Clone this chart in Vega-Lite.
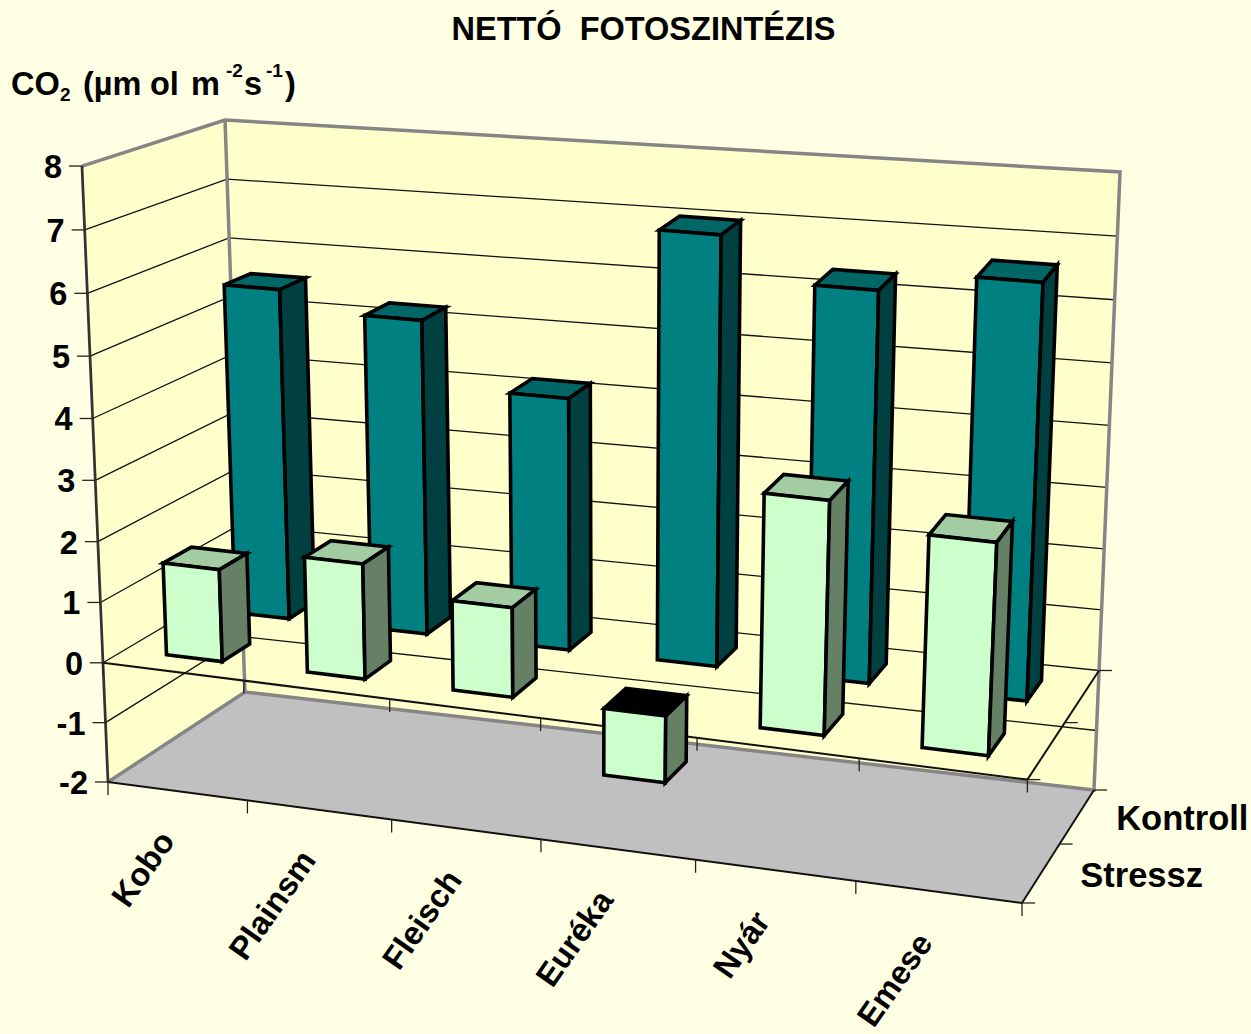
{
"$schema":"https://vega.github.io/schema/vega-lite/v6.json",
"width":1251,"height":1034,"padding":0,"autosize":{"type":"none"},
"background":"#FFFFE3",
"config":{"view":{"stroke":null},"text":{"font":"Liberation Sans","fontWeight":"bold","fontSize":32.5,"fill":"black"}},
"title":{"text":"NETTÓ\u00a0 FOTOSZINTÉZIS","font":"Liberation Sans","fontWeight":"bold","fontSize":32.5,"color":"black","anchor":"middle","dx":18,"offset":-46},
"datasets":{
"meres":[
{"fajta":"Kobo","kezeles":"Kontroll","ertek":5.58},
{"fajta":"Plainsm","kezeles":"Kontroll","ertek":5.27},
{"fajta":"Fleisch","kezeles":"Kontroll","ertek":4.2},
{"fajta":"Euréka","kezeles":"Kontroll","ertek":7.05},
{"fajta":"Nyár","kezeles":"Kontroll","ertek":6.37},
{"fajta":"Emese","kezeles":"Kontroll","ertek":6.7},
{"fajta":"Kobo","kezeles":"Stressz","ertek":1.53},
{"fajta":"Plainsm","kezeles":"Stressz","ertek":1.9},
{"fajta":"Fleisch","kezeles":"Stressz","ertek":1.47},
{"fajta":"Euréka","kezeles":"Stressz","ertek":-1.1},
{"fajta":"Nyár","kezeles":"Stressz","ertek":3.77},
{"fajta":"Emese","kezeles":"Stressz","ertek":3.4}],
"fajtak":[{"fajta":"Kobo"},{"fajta":"Plainsm"},{"fajta":"Fleisch"},{"fajta":"Euréka"},{"fajta":"Nyár"},{"fajta":"Emese"}],
"kezelesek":[{"kezeles":"Stressz"},{"kezeles":"Kontroll"}],
"osztas":[{"ertek":-2},{"ertek":-1},{"ertek":0},{"ertek":1},{"ertek":2},{"ertek":3},{"ertek":4},{"ertek":5},{"ertek":6},{"ertek":7},{"ertek":8}],
"hatarok":[{"h":0},{"h":1},{"h":2},{"h":3},{"h":4},{"h":5},{"h":6}],
"melyseg":[{"m":0},{"m":1},{"m":2}],
"falak":[{"lap":"bal"},{"lap":"hatso"},{"lap":"padlo"}],
"elek":[{"el":"keret","tipus":"szurke"},{"el":"sarok","tipus":"szurke"},{"el":"ytengely","tipus":"sotet"},{"el":"padloel","tipus":"fekete"},{"el":"nullasik","tipus":"fekete"}],
"egy":[{"horgony":"y"}]
},
"encoding":{
"x":{"field":"px","type":"quantitative","axis":null,"scale":{"domain":[0,1251],"nice":false,"zero":false}},
"y":{"field":"py","type":"quantitative","axis":null,"scale":{"domain":[0,1034],"nice":false,"zero":false,"reverse":true}}
},
"layer":[
{"data":{"name":"falak"},
"transform":[
{"calculate":"[0,1,2,3]","as":"sarkok"},{"flatten":["sarkok"],"as":["i"]},
{"calculate":"datum.lap=='bal'?0:(datum.i==1||datum.i==2?1:0)","as":"u"},
{"calculate":"datum.lap=='padlo'?0:(datum.i>=2?1:0)","as":"v"},
{"calculate":"datum.lap=='hatso'?1:datum.lap=='bal'?(datum.i==1||datum.i==2?1:0):(datum.i>=2?1:0)","as":"w"},
{"calculate":"((1-datum.w)*((1-datum.v)*((1-datum.u)*108+datum.u*919.8)+datum.v*((1-datum.u)*78.7+datum.u*903))+datum.w*((1-datum.v)*((1-datum.u)*265.3+datum.u*1075.4)+datum.v*((1-datum.u)*234.7+datum.u*1056.2)))/(1-0.1*datum.u-0.04*datum.v+0.083*datum.w)","as":"px"},
{"calculate":"((1-datum.w)*((1-datum.v)*((1-datum.u)*782+datum.u*812.7)+datum.v*((1-datum.u)*159.4+datum.u*226.2))+datum.w*((1-datum.v)*((1-datum.u)*749.4+datum.u*776.6)+datum.v*((1-datum.u)*125.2+datum.u*162.2)))/(1-0.1*datum.u-0.04*datum.v+0.083*datum.w)","as":"py"}
],
"mark":{"type":"line","interpolate":"linear-closed","strokeWidth":0},
"encoding":{"order":{"field":"i","type":"quantitative"},"detail":{"field":"lap"},
"fill":{"field":"lap","type":"nominal","legend":null,"scale":{"domain":["bal","hatso","padlo","Kontroll front","Kontroll side","Kontroll top","Stressz front","Stressz side","Stressz top","Stressz alja"],"range":["#FFFFCC","#FFFFCC","#C0C0C0","#008080","#004040","#006666","#CCFFCC","#668066","#A3CCA3","#000000"]}}}},
{"data":{"name":"osztas"},
"transform":[
{"filter":"datum.ertek>-2&&datum.ertek<8"},
{"calculate":"[0,1,2]","as":"csucsok"},{"flatten":["csucsok"],"as":["i"]},
{"calculate":"datum.i==2?1:0","as":"u"},
{"calculate":"(datum.ertek+2)/10","as":"v"},
{"calculate":"datum.i>=1?1:0","as":"w"},
{"calculate":"((1-datum.w)*((1-datum.v)*((1-datum.u)*108+datum.u*919.8)+datum.v*((1-datum.u)*78.7+datum.u*903))+datum.w*((1-datum.v)*((1-datum.u)*265.3+datum.u*1075.4)+datum.v*((1-datum.u)*234.7+datum.u*1056.2)))/(1-0.1*datum.u-0.04*datum.v+0.083*datum.w)","as":"px"},
{"calculate":"((1-datum.w)*((1-datum.v)*((1-datum.u)*782+datum.u*812.7)+datum.v*((1-datum.u)*159.4+datum.u*226.2))+datum.w*((1-datum.v)*((1-datum.u)*749.4+datum.u*776.6)+datum.v*((1-datum.u)*125.2+datum.u*162.2)))/(1-0.1*datum.u-0.04*datum.v+0.083*datum.w)","as":"py"}
],
"mark":{"type":"line","stroke":"#111111","strokeWidth":1.3},
"encoding":{"order":{"field":"i","type":"quantitative"},"detail":{"field":"ertek"}}},
{"data":{"name":"elek"},
"transform":[
{"calculate":"{keret:[[0,0,0],[0,0,1],[1,0,1],[1,1,1],[0,1,1],[0,1,0]],sarok:[[0,0,1],[0,1,1]],ytengely:[[0,0,0],[0,1,0]],padloel:[[0,0,0],[1,0,0],[1,0,1]],nullasik:[[0,0.2,0],[1,0.2,0],[1,0.2,1]]}[datum.el]","as":"pontok"},
{"flatten":["pontok"],"as":["p"]},
{"window":[{"op":"row_number","as":"i"}],"groupby":["el"]},
{"calculate":"datum.p[0]","as":"u"},{"calculate":"datum.p[1]","as":"v"},{"calculate":"datum.p[2]","as":"w"},
{"calculate":"((1-datum.w)*((1-datum.v)*((1-datum.u)*108+datum.u*919.8)+datum.v*((1-datum.u)*78.7+datum.u*903))+datum.w*((1-datum.v)*((1-datum.u)*265.3+datum.u*1075.4)+datum.v*((1-datum.u)*234.7+datum.u*1056.2)))/(1-0.1*datum.u-0.04*datum.v+0.083*datum.w)","as":"px"},
{"calculate":"((1-datum.w)*((1-datum.v)*((1-datum.u)*782+datum.u*812.7)+datum.v*((1-datum.u)*159.4+datum.u*226.2))+datum.w*((1-datum.v)*((1-datum.u)*749.4+datum.u*776.6)+datum.v*((1-datum.u)*125.2+datum.u*162.2)))/(1-0.1*datum.u-0.04*datum.v+0.083*datum.w)","as":"py"}
],
"mark":{"type":"line"},
"encoding":{"order":{"field":"i","type":"quantitative"},"detail":{"field":"el"},
"color":{"field":"tipus","type":"nominal","legend":null,"scale":{"domain":["szurke","sotet","fekete"],"range":["#858585","#333333","#111111"]}},
"strokeWidth":{"field":"tipus","type":"nominal","legend":null,"scale":{"domain":["szurke","sotet","fekete"],"range":[3.5,2,1.4]}}}},
{"data":{"name":"osztas"},
"transform":[
{"calculate":"(datum.ertek+2)/10","as":"v"},
{"calculate":"(782*(1-datum.v)+159.4*datum.v)/(1-0.04*datum.v)","as":"py"},
{"calculate":"(108*(1-datum.v)+78.7*datum.v)/(1-0.04*datum.v)","as":"px"},
{"calculate":"datum.px-13","as":"px2"}
],
"layer":[
{"mark":{"type":"rule","stroke":"#222222","strokeWidth":1.3},"encoding":{"x2":{"field":"px2"}}},
{"mark":{"type":"text","align":"right","baseline":"middle","dx":-20,"dy":2},"encoding":{"text":{"field":"ertek","type":"nominal"}}}
]},
{"data":{"name":"hatarok"},
"transform":[
{"calculate":"[0,0.2]","as":"sikok"},{"flatten":["sikok"],"as":["v"]},
{"calculate":"datum.h/6","as":"u"},
{"calculate":"0","as":"w"},
{"calculate":"((1-datum.w)*((1-datum.v)*((1-datum.u)*108+datum.u*919.8)+datum.v*((1-datum.u)*78.7+datum.u*903))+datum.w*((1-datum.v)*((1-datum.u)*265.3+datum.u*1075.4)+datum.v*((1-datum.u)*234.7+datum.u*1056.2)))/(1-0.1*datum.u-0.04*datum.v+0.083*datum.w)","as":"px"},
{"calculate":"((1-datum.w)*((1-datum.v)*((1-datum.u)*782+datum.u*812.7)+datum.v*((1-datum.u)*159.4+datum.u*226.2))+datum.w*((1-datum.v)*((1-datum.u)*749.4+datum.u*776.6)+datum.v*((1-datum.u)*125.2+datum.u*162.2)))/(1-0.1*datum.u-0.04*datum.v+0.083*datum.w)","as":"py"},
{"calculate":"datum.py+13","as":"py2"}
],
"mark":{"type":"rule","stroke":"#222222","strokeWidth":1.3},
"encoding":{"y2":{"field":"py2"}}},
{"data":{"name":"melyseg"},
"transform":[
{"calculate":"[0,0.2]","as":"sikok"},{"flatten":["sikok"],"as":["v"]},
{"calculate":"1","as":"u"},
{"calculate":"datum.m/2","as":"w"},
{"calculate":"((1-datum.w)*((1-datum.v)*((1-datum.u)*108+datum.u*919.8)+datum.v*((1-datum.u)*78.7+datum.u*903))+datum.w*((1-datum.v)*((1-datum.u)*265.3+datum.u*1075.4)+datum.v*((1-datum.u)*234.7+datum.u*1056.2)))/(1-0.1*datum.u-0.04*datum.v+0.083*datum.w)","as":"px"},
{"calculate":"((1-datum.w)*((1-datum.v)*((1-datum.u)*782+datum.u*812.7)+datum.v*((1-datum.u)*159.4+datum.u*226.2))+datum.w*((1-datum.v)*((1-datum.u)*749.4+datum.u*776.6)+datum.v*((1-datum.u)*125.2+datum.u*162.2)))/(1-0.1*datum.u-0.04*datum.v+0.083*datum.w)","as":"py"},
{"calculate":"datum.px+13","as":"px2"}
],
"mark":{"type":"rule","stroke":"#222222","strokeWidth":1.3},
"encoding":{"x2":{"field":"px2"}}},
{"data":{"name":"meres"},
"transform":[
{"calculate":"indexof(['Kobo','Plainsm','Fleisch','Euréka','Nyár','Emese'],datum.fajta)","as":"k"},
{"calculate":"datum.kezeles=='Kontroll'?1:0","as":"s"},
{"calculate":"(datum.k+0.3)/6","as":"u0"},{"calculate":"(datum.k+0.7)/6","as":"u1"},
{"calculate":"0.15+0.5*datum.s","as":"w0"},{"calculate":"0.35+0.5*datum.s","as":"w1"},
{"calculate":"min(0.2,(datum.ertek+2)/10)","as":"vlo"},{"calculate":"max(0.2,(datum.ertek+2)/10)","as":"vhi"},
{"calculate":"['top','front','side']","as":"lapok"},{"flatten":["lapok"],"as":["lap"]},
{"calculate":"[0,1,2,3]","as":"sarkok"},{"flatten":["sarkok"],"as":["i"]},
{"calculate":"datum.lap=='side'?datum.u1:(datum.i==1||datum.i==2?datum.u1:datum.u0)","as":"u"},
{"calculate":"datum.lap=='top'?datum.vhi:(datum.i>=2?datum.vhi:datum.vlo)","as":"v"},
{"calculate":"datum.lap=='front'?datum.w0:datum.lap=='side'?(datum.i==1||datum.i==2?datum.w1:datum.w0):(datum.i>=2?datum.w1:datum.w0)","as":"w"},
{"calculate":"((1-datum.w)*((1-datum.v)*((1-datum.u)*108+datum.u*919.8)+datum.v*((1-datum.u)*78.7+datum.u*903))+datum.w*((1-datum.v)*((1-datum.u)*265.3+datum.u*1075.4)+datum.v*((1-datum.u)*234.7+datum.u*1056.2)))/(1-0.1*datum.u-0.04*datum.v+0.083*datum.w)","as":"px"},
{"calculate":"((1-datum.w)*((1-datum.v)*((1-datum.u)*782+datum.u*812.7)+datum.v*((1-datum.u)*159.4+datum.u*226.2))+datum.w*((1-datum.v)*((1-datum.u)*749.4+datum.u*776.6)+datum.v*((1-datum.u)*125.2+datum.u*162.2)))/(1-0.1*datum.u-0.04*datum.v+0.083*datum.w)","as":"py"},
{"calculate":"datum.lap=='top'&&datum.ertek<0?'Stressz alja':datum.kezeles+' '+datum.lap","as":"arnyalat"},
{"calculate":"datum.fajta+datum.kezeles+datum.lap","as":"lapid"}
],
"mark":{"type":"line","interpolate":"linear-closed","stroke":"black","strokeWidth":3.6,"strokeJoin":"miter"},
"encoding":{"order":{"field":"i","type":"quantitative"},"detail":{"field":"lapid"},
"fill":{"field":"arnyalat","type":"nominal","legend":null,"scale":{"domain":["bal","hatso","padlo","Kontroll front","Kontroll side","Kontroll top","Stressz front","Stressz side","Stressz top","Stressz alja"],"range":["#FFFFCC","#FFFFCC","#C0C0C0","#008080","#004040","#006666","#CCFFCC","#668066","#A3CCA3","#000000"]}}}},
{"data":{"name":"fajtak"},
"transform":[
{"calculate":"indexof(['Kobo','Plainsm','Fleisch','Euréka','Nyár','Emese'],datum.fajta)","as":"k"},
{"calculate":"(datum.k+0.5)/6","as":"u"},
{"calculate":"-0.07","as":"v"},
{"calculate":"0","as":"w"},
{"calculate":"((1-datum.w)*((1-datum.v)*((1-datum.u)*108+datum.u*919.8)+datum.v*((1-datum.u)*78.7+datum.u*903))+datum.w*((1-datum.v)*((1-datum.u)*265.3+datum.u*1075.4)+datum.v*((1-datum.u)*234.7+datum.u*1056.2)))/(1-0.1*datum.u-0.04*datum.v+0.083*datum.w)-11","as":"px"},
{"calculate":"((1-datum.w)*((1-datum.v)*((1-datum.u)*782+datum.u*812.7)+datum.v*((1-datum.u)*159.4+datum.u*226.2))+datum.w*((1-datum.v)*((1-datum.u)*749.4+datum.u*776.6)+datum.v*((1-datum.u)*125.2+datum.u*162.2)))/(1-0.1*datum.u-0.04*datum.v+0.083*datum.w)+3","as":"py"}
],
"mark":{"type":"text","angle":305,"align":"right","baseline":"middle"},
"encoding":{"text":{"field":"fajta","type":"nominal"}}},
{"data":{"name":"kezelesek"},
"transform":[
{"calculate":"datum.kezeles=='Kontroll'?0.75:0.25","as":"w"},
{"calculate":"1","as":"u"},
{"calculate":"0","as":"v"},
{"calculate":"((1-datum.w)*((1-datum.v)*((1-datum.u)*108+datum.u*919.8)+datum.v*((1-datum.u)*78.7+datum.u*903))+datum.w*((1-datum.v)*((1-datum.u)*265.3+datum.u*1075.4)+datum.v*((1-datum.u)*234.7+datum.u*1056.2)))/(1-0.1*datum.u-0.04*datum.v+0.083*datum.w)","as":"px"},
{"calculate":"((1-datum.w)*((1-datum.v)*((1-datum.u)*782+datum.u*812.7)+datum.v*((1-datum.u)*159.4+datum.u*226.2))+datum.w*((1-datum.v)*((1-datum.u)*749.4+datum.u*776.6)+datum.v*((1-datum.u)*125.2+datum.u*162.2)))/(1-0.1*datum.u-0.04*datum.v+0.083*datum.w)","as":"py"}
],
"mark":{"type":"text","align":"left","baseline":"middle","dx":39,"dy":4,"fontSize":34.5},
"encoding":{"text":{"field":"kezeles","type":"nominal"}}},
{"data":{"name":"egy"},
"transform":[
{"calculate":"(108*0+78.7*1)/0.96","as":"px"},
{"calculate":"(782*0+159.4*1)/0.96","as":"py"}
],
"layer":[
{"mark":{"type":"text","align":"left","baseline":"alphabetic","text":"CO","dx":-71,"dy":-71}},
{"mark":{"type":"text","align":"left","baseline":"alphabetic","text":"2","fontSize":19,"dx":-22,"dy":-65}},
{"mark":{"type":"text","align":"left","baseline":"alphabetic","text":"(µm","dx":1,"dy":-71}},
{"mark":{"type":"text","align":"left","baseline":"alphabetic","text":"ol","dx":68,"dy":-71}},
{"mark":{"type":"text","align":"left","baseline":"alphabetic","text":"m","dx":109,"dy":-71}},
{"mark":{"type":"text","align":"left","baseline":"alphabetic","text":"-2","fontSize":19,"dx":144,"dy":-89}},
{"mark":{"type":"text","align":"left","baseline":"alphabetic","text":"s","dx":162,"dy":-71}},
{"mark":{"type":"text","align":"left","baseline":"alphabetic","text":"-1","fontSize":19,"dx":184,"dy":-89}},
{"mark":{"type":"text","align":"left","baseline":"alphabetic","text":")","dx":203,"dy":-71}}
]}
],
"resolve":{"scale":{"fill":"shared"}}
}
